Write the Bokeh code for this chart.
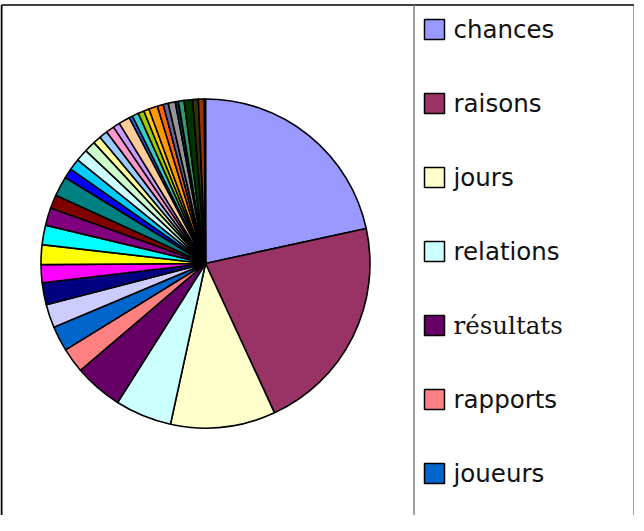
import numpy as np
from bokeh.plotting import figure
from bokeh.models import ColumnDataSource, Range1d
from bokeh.embed import file_html
from bokeh.resources import INLINE

# ---- data -------------------------------------------------------------
legend_labels = ["chances", "raisons", "jours", "relations", "résultats",
                 "rapports", "joueurs"]
values = [77.7, 77.5, 37.1, 20.0, 17.2, 8.8, 8.9, 8.3, 7.8, 6.3,
          7.0, 6.9, 6.2, 4.8, 7.0, 3.5, 4.0, 4.3, 4.0, 2.8,
          3.0, 2.9, 2.4, 4.0, 1.2, 2.3, 2.1, 1.9, 3.1, 2.1,
          1.8, 2.5, 1.1, 2.0, 3.0, 2.0, 2.1, 0.2, 0.1, 0.1]
colors = ["#9999FF", "#993366", "#FFFFCC", "#CCFFFF", "#660066", "#FF8080",
          "#0066CC", "#CCCCFF", "#000080", "#FF00FF", "#FFFF00", "#00FFFF",
          "#800080", "#800000", "#008080", "#0000FF", "#00CCFF", "#CCFFFF",
          "#CCFFCC", "#FFFF99", "#99CCFF", "#FF99CC", "#CC99FF", "#FFCC99",
          "#3366FF", "#33CCCC", "#99CC00", "#FFCC00", "#FF9900", "#FF6600",
          "#666699", "#969696", "#003366", "#339966", "#003300", "#333300",
          "#993300", "#993366", "#333399", "#333333"]
legend_fonts = ["DejaVu Sans", "DejaVu Sans", "DejaVu Sans", "DejaVu Sans",
                "DejaVu Serif", "DejaVu Sans", "DejaVu Sans"]

# ---- geometry (figure placed at page x=8, y=8) ------------------------
W, H = 634, 515
OX, OY = 8, 8                      # page offset of the figure


def fx(page_x):
    return page_x - OX


def fy(page_y):
    return (OY + H) - page_y


cx, cy, R = fx(213), fy(271), 164.5

vals = np.array(values, dtype=float)
frac = vals / vals.sum()
cum = np.concatenate([[0.0], np.cumsum(frac)])
# clockwise from 12 o'clock
start = np.pi / 2 - cum[1:] * 2 * np.pi
end = np.pi / 2 - cum[:-1] * 2 * np.pi
pie_src = ColumnDataSource(dict(start=start, end=end, color=colors))

p = figure(width=W, height=H, output_backend="svg", toolbar_location=None,
           x_range=Range1d(0, W), y_range=Range1d(0, H), min_border=0)
p.axis.visible = False
p.grid.visible = False
p.outline_line_color = None
p.background_fill_color = "white"
p.border_fill_color = "white"

p.wedge(x=cx, y=cy, radius=R, start_angle="start", end_angle="end",
        direction="anticlock", fill_color="color", line_color="black",
        line_width=1.6, source=pie_src)

# frame
top = fy(12.5)
p.line(x=[1, 1], y=[0, top], line_color="black", line_width=2)
p.line(x=[1, fx(641.5)], y=[top, top], line_color="black", line_width=1.5)
p.line(x=[fx(641.5), fx(641.5)], y=[0, top], line_color="#666666",
       line_width=1.2)
p.line(x=[fx(421.5), fx(421.5)], y=[0, top], line_color="#808080",
       line_width=1.5)

# legend
n = len(legend_labels)
rows = np.arange(n)
leg_y = fy(37) - 74 * rows
leg_src = ColumnDataSource(dict(x=[fx(442)] * n, y=leg_y, tx=[fx(461)] * n,
                                color=colors[:n], label=legend_labels,
                                font=legend_fonts))
p.rect(x="x", y="y", width=20, height=20, fill_color="color",
       line_color="black", line_width=1.5, source=leg_src)
p.text(x="tx", y="y", text="label", text_font="font",
       text_font_size="24.5px", text_baseline="middle", text_align="left",
       text_color="#111111", source=leg_src)

open("out.html", "w").write(file_html(p, INLINE))
